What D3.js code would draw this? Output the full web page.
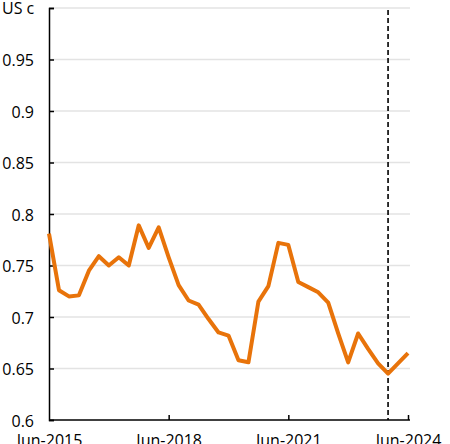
<!DOCTYPE html>
<html>
<head>
<meta charset="utf-8">
<script src="https://cdn.jsdelivr.net/npm/d3@7"></script>
<style>
  body { margin: 0; background: #fff; }
  text { font-family: "Open Sans", sans-serif; font-size: 16px; fill: #000; }
</style>
</head>
<body>
<div id="chart"></div>
<script>
const width = 450,
  height = 444,
  margin = { top: 8, bottom: 24, left: 49, right: 42 };

// quarterly, Jun-2015 .. Jun-2024
const quarters = d3.range(37).map(i => d3.timeMonth.offset(new Date(2015, 5, 1), i * 3));
const values = [
  0.781, 0.726, 0.720, 0.721, 0.745, 0.759, 0.750, 0.758, 0.750, 0.789,
  0.767, 0.787, 0.758, 0.731, 0.716, 0.712, 0.698, 0.685, 0.682, 0.658,
  0.656, 0.715, 0.730, 0.772, 0.770, 0.734, 0.729, 0.724, 0.714, 0.684,
  0.656, 0.684, 0.669, 0.655, 0.645, 0.655, 0.665
];
const yTicks = [0.6, 0.65, 0.7, 0.75, 0.8, 0.85, 0.9, 0.95, 1];
const xTickIdx = [0, 12, 24, 36];
const markerIdx = 34; // Dec-2023
const unitLabel = "US c";

const data = quarters.map((d, i) => ({ date: d, i: i, value: values[i] }));

const xScale = d3.scaleLinear()
  .domain([0, quarters.length - 1])
  .range([margin.left, width - margin.right]);

const yScale = d3.scaleLinear()
  .domain([0.6, 1])
  .range([height - margin.bottom, margin.top]);

const fmtDate = d3.timeFormat("%b-%Y");

const svg = d3.select("#chart")
  .append("svg")
  .attr("width", width)
  .attr("height", height);

// gridlines
svg.append("g")
  .selectAll("line")
  .data(yTicks.slice(1))
  .join("line")
  .attr("x1", margin.left)
  .attr("x2", width - margin.right + 2)
  .attr("y1", d => yScale(d))
  .attr("y2", d => yScale(d))
  .attr("stroke", "#e3e3e3")
  .attr("stroke-width", 1.5);

// y axis (top tick carries the unit label instead of "1")
const yAxis = d3.axisLeft(yScale)
  .tickValues(yTicks)
  .tickSize(-5)
  .tickPadding(15)
  .tickFormat(d => d === 1 ? "" : d3.format("")(+d.toFixed(2)));

svg.append("g")
  .attr("class", "axis y-axis")
  .attr("transform", `translate(${margin.left},0)`)
  .call(yAxis)
  .call(g => g.select(".domain").attr("stroke", "#000").attr("stroke-width", 1.5))
  .call(g => g.selectAll(".tick line").attr("stroke", "#000").attr("stroke-width", 1.5))
  .call(g => g.selectAll(".tick text")
    .attr("font-family", "Open Sans").attr("font-size", 16).attr("fill", "#000").attr("dy", "0.4em"));

// x axis
const xAxis = d3.axisBottom(xScale)
  .tickValues(xTickIdx)
  .tickSize(-5)
  .tickSizeOuter(0)
  .tickPadding(17)
  .tickFormat(i => fmtDate(quarters[i]));

svg.append("g")
  .attr("class", "axis x-axis")
  .attr("transform", `translate(0,${height - margin.bottom})`)
  .call(xAxis)
  .call(g => g.select(".domain").attr("stroke", "#000").attr("stroke-width", 1.5)
    .attr("d", `M${margin.left},0H${width - margin.right + 2}`))
  .call(g => g.selectAll(".tick line").attr("stroke", "#000").attr("stroke-width", 1.5))
  .call(g => g.selectAll(".tick").filter(i => i === 0).select("line").remove())
  .call(g => g.selectAll(".tick text")
    .attr("font-family", "Open Sans").attr("font-size", 16).attr("fill", "#000").attr("dy", "0.55em"));

// unit label
svg.append("text")
  .attr("x", 2)
  .attr("y", 14)
  .text(unitLabel);

// dashed marker
svg.append("line")
  .attr("x1", xScale(markerIdx))
  .attr("x2", xScale(markerIdx))
  .attr("y1", yScale(1) + 2)
  .attr("y2", yScale(0.6))
  .attr("stroke", "#000")
  .attr("stroke-width", 1.6)
  .attr("stroke-dasharray", "5,3");

// series line
const line = d3.line()
  .x(d => xScale(d.i))
  .y(d => yScale(d.value));

svg.append("path")
  .datum(data)
  .attr("fill", "none")
  .attr("stroke", "#E8730A")
  .attr("stroke-width", 4)
  .attr("stroke-linejoin", "round")
  .attr("d", line);
</script>
</body>
</html>
